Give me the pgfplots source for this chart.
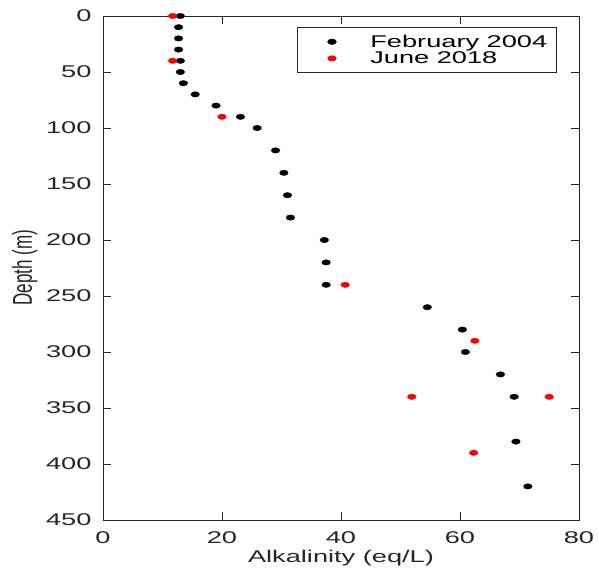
\documentclass[border=0pt]{standalone}
\usepackage{fontspec}
\setmainfont{Liberation Sans}
\usepackage{pgfplots}
\pgfplotsset{compat=1.18}
\definecolor{axgray}{gray}{0.15}
\begin{document}
\begin{tikzpicture}[x=1pt,y=1pt]
\useasboundingbox (0,0) rectangle (599,575);
\begin{axis}[
  at={(103pt,55pt)}, anchor=south west,
  width=476pt, height=504pt, scale only axis,
  xmin=0, xmax=80, ymin=0, ymax=450, y dir=reverse,
  xtick={0,20,...,80}, ytick={0,50,...,450},
  tick align=inside, major tick length=8pt,
  axis line style={axgray, line width=0.6pt},
  every tick/.style={axgray, line width=0.6pt},
  font=\fontsize{17}{17}\selectfont,
  /pgf/number format/assume math mode=true,
  ticklabel style={text=axgray},
  xticklabel style={xscale=1.6, inner ysep=11pt},
  yticklabel style={xscale=1.6, inner xsep=7pt},
  xlabel={Alkalinity (eq/L)},
  ylabel={Depth (m)},
  xlabel style={xscale=1.6, text=axgray, at={(axis description cs:0.5,0)}, anchor=north, yshift=-27pt},
  ylabel style={rotate=0, at={(axis description cs:-0.164,0.501)}, anchor=center, yscale=1.6, text=axgray},
  clip=false,
  legend cell align=left,
  legend style={at={(axis description cs:0.4076,0.978)}, anchor=north west,
    draw=axgray, line width=0.6pt, fill=white,
    font=\fontsize{17}{17}\selectfont,
    inner xsep=7pt, inner ysep=6pt,
    row sep=0pt,
    nodes={inner ysep=1.5pt},
    /tikz/every odd column/.append style={column sep=32pt}},
  legend image code/.code={\path[draw=none,fill=none] (-27.7pt,0pt) -- (0pt,0pt); \draw[#1] plot coordinates {(0pt,0pt)};},
]
\addplot[only marks, mark=*, mark size=2.7pt, color=black, mark options={xscale=1.6, fill=black, draw=black}] coordinates {
(13.0,0) (12.7,10) (12.7,20) (12.7,30) (13.0,40) (13.0,50) (13.5,60) (15.5,70) (19.0,80) (23.1,90) (25.9,100) (29.0,120) (30.4,140) (31.0,160) (31.5,180) (37.2,200) (37.5,220) (37.5,240) (54.5,260) (60.4,280) (60.9,300) (66.8,320) (69.1,340) (69.4,380) (71.4,420)
};
\addlegendentry{\scalebox{1.6}[1]{February 2004}}
\addplot[only marks, mark=*, mark size=2.7pt, color=red, mark options={xscale=1.6, fill=red, draw=red}] coordinates {
(11.7,0) (11.7,40) (20.0,90) (40.7,240) (62.5,290) (51.9,340) (75.0,340) (62.3,390)
};
\addlegendentry{\scalebox{1.6}[1]{June 2018}}
\end{axis}
\end{tikzpicture}
\end{document}
